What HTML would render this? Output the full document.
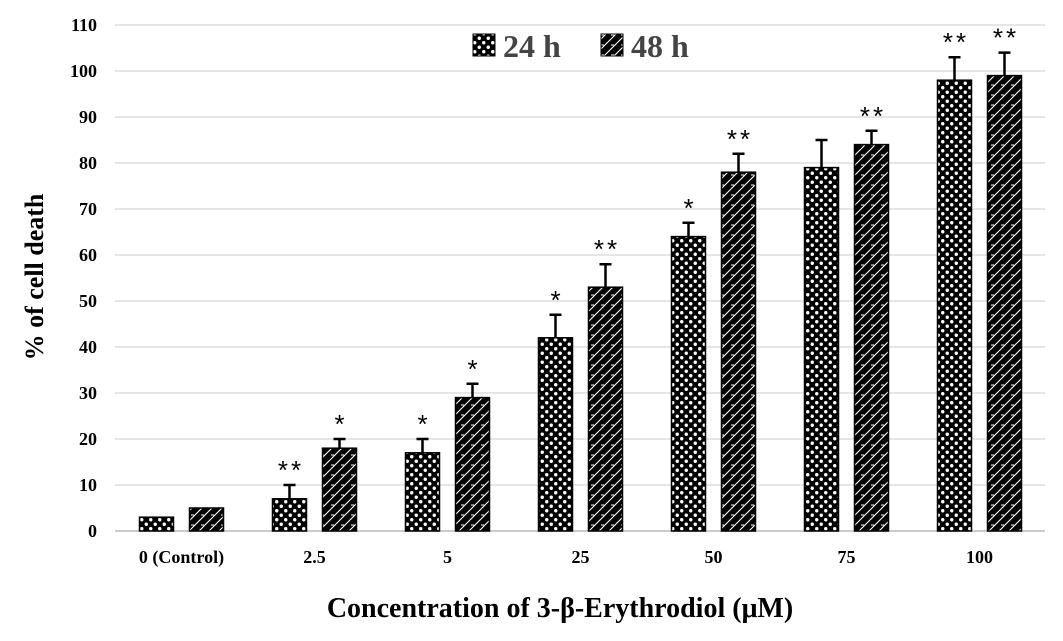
<!DOCTYPE html>
<html><head><meta charset="utf-8"><style>
html,body{margin:0;padding:0;background:#fff;}
svg{display:block;font-family:"Liberation Serif",serif;}
</style></head><body>
<svg id="c" width="1063" height="641" viewBox="0 0 1063 641">
<defs>
<pattern id="dots" width="9" height="9" patternUnits="userSpaceOnUse">
<rect width="9" height="9" fill="#000"/>
<circle cx="2.25" cy="2.25" r="1.7" fill="#fff"/><circle cx="6.75" cy="6.75" r="1.7" fill="#fff"/>
</pattern>
<pattern id="brick" width="10" height="10" patternUnits="userSpaceOnUse">
<rect width="10" height="10" fill="#000"/>
<path d="M0 10 L10 0 M-2 2 L2 -2 M8 12 L12 8" stroke="#fff" stroke-width="1.1"/>
<path d="M1 5 L4 5" stroke="#fff" stroke-width="1"/>
</pattern>
</defs>
<g id="grid"></g>
<g id="bars"></g>
<g>
<rect x="473" y="34" width="22" height="22" fill="url(#dots)" stroke="#000"/>
<text x="503" y="57" font-size="32" font-weight="bold" fill="#444">24 h</text>
<rect x="601" y="34" width="22" height="22" fill="url(#brick)" stroke="#000"/>
<text x="631" y="57" font-size="32" font-weight="bold" fill="#444">48 h</text>
</g>
<text transform="translate(43,277) rotate(-90)" text-anchor="middle" font-size="26" font-weight="bold">% of cell death</text>
<text x="560" y="617" text-anchor="middle" font-size="28" font-weight="bold">Concentration of 3-β-Erythrodiol (μM)</text>
</svg>
<script>
const categories=["0 (Control)","2.5","5","25","50","75","100"];
const values24=[3,7,17,42,64,79,98];
const values48=[5,18,29,53,78,84,99];
const err24=[0,3,3,5,3,6,5];
const err48=[0,2,3,5,4,3,5];
const sig24=["","**","*","*","*","","**"];
const sig48=["","*","*","**","**","**","**"];
const yTicks=[0,10,20,30,40,50,60,70,80,90,100,110];
const NS="http://www.w3.org/2000/svg";
const y=v=>531-v*4.6;
const x0=115,band=133;
const cx=i=>x0+band*(i+0.5);
const grid=document.getElementById('grid'),bars=document.getElementById('bars');
function mk(tag,attrs,parent){const e=document.createElementNS(NS,tag);for(const k in attrs)e.setAttribute(k,attrs[k]);parent.appendChild(e);return e;}
yTicks.forEach(t=>{
 const l=mk('line',{x1:x0,x2:1045,y1:y(t),y2:y(t),stroke:t===0?'#bbb':'#ddd','stroke-width':1.5},grid);
 
 
 const tx=mk('text',{x:97,y:y(t)+6,'text-anchor':'end','font-size':18,'font-weight':'bold'},grid);
 tx.textContent=t;
 
 
});
const bw=34;
categories.forEach((c,i)=>{
 const tx=mk('text',{x:cx(i),y:563,'text-anchor':'middle','font-size':18,'font-weight':'bold'},grid);
 tx.textContent=c;
 
 
 [[values24,err24,sig24,-25,'dots','24h'],[values48,err48,sig48,25,'brick','48h']].forEach(([vals,errs,sigs,off,pat,lab])=>{
  const v=vals[i],e=errs[i],bx=cx(i)+off;
  const r=mk('rect',{x:bx-bw/2,y:y(v),width:bw,height:y(0)-y(v),fill:'url(#'+pat+')',stroke:'#000','stroke-width':1.5},bars);
  
  
  if(e>0){
   const g=mk('path',{d:`M${bx} ${y(v)} V${y(v+e)} M${bx-6} ${y(v+e)} H${bx+6}`,stroke:'#000','stroke-width':2.5,fill:'none'},bars);
   
   
  }
  if(sigs[i]){
   const s=mk('text',{x:bx+1.5,y:y(v+e)-6,'text-anchor':'middle','font-size':26,'font-family':'Liberation Sans, sans-serif'},bars);
   s.textContent=sigs[i];
   s.setAttribute('letter-spacing','3');
   
   
  }
 });
});
</script>
</body></html>
